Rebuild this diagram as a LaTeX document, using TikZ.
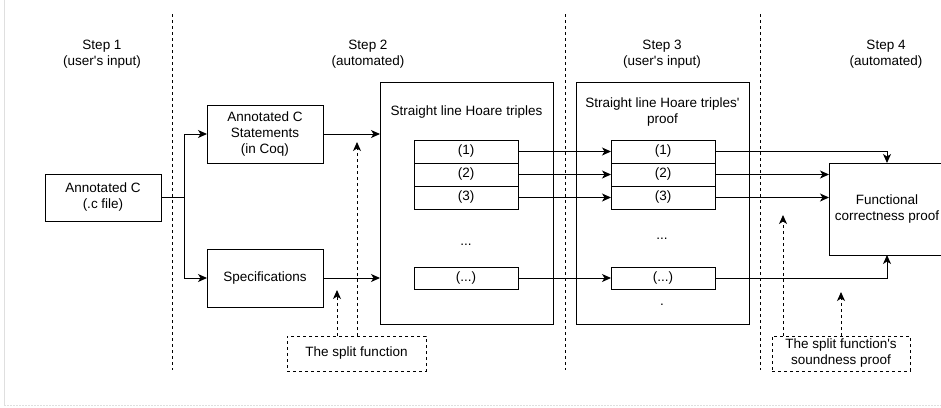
\documentclass[tikz,border=0pt]{standalone}
\usepackage{fontspec}
\setmainfont{Liberation Sans}
\usetikzlibrary{arrows.meta}
\newcommand{\fs}{\fontsize{13.5}{16}\selectfont}
\newcommand{\apo}{\textquotesingle}
\begin{document}
\begin{tikzpicture}[x=1pt,y=-1pt,
  box/.style={draw, line width=1pt, align=center, inner sep=0pt, outer sep=0pt, font=\fs},
  lbl/.style={align=center, inner sep=0pt, font=\fs},
  arr/.style={line width=1pt, -{Stealth[length=9pt,width=8pt,inset=2.5pt]}},
  darr/.style={line width=1pt, dash pattern=on 3pt off 3pt, -{Stealth[length=9pt,width=8pt,inset=2.5pt]}},
  sep/.style={line width=0.9pt, dash pattern=on 3pt off 3pt},
  ln/.style={line width=1pt}]
\useasboundingbox (0,0) rectangle (941,407);
\clip (0,0) rectangle (941,407);
% faint frame
\draw[gray!25, line width=0.8pt] (4,0) -- (4,405);
\draw[gray!25, line width=0.8pt, dash pattern=on 2pt off 1pt] (4,405) -- (941,405);
% separators
\draw[sep] (172,14) -- (172,370);
\draw[sep] (565,14) -- (565,370);
\draw[sep] (760,14) -- (760,370);
% step labels
\node[lbl] (s1) at (102,54.5) {Step 1\\(user\apo s input)};
\node[lbl] (s2) at (368,54.5) {Step 2\\(automated)};
\node[lbl] (s3) at (662,54.5) {Step 3\\(user\apo s input)};
\node[lbl] (s4) at (886,54.5) {Step 4\\(automated)};
% boxes
\node[box, minimum width=116pt, minimum height=47pt] (ac) at (103,197.5) {Annotated C\\(.c file)};
\node[box, minimum width=116pt, minimum height=58pt] (stmt) at (265,134) {Annotated C\\Statements\\(in Coq)};
\node[box, minimum width=116pt, minimum height=58pt] (spec) at (265,278) {Specifications};
\node[box, minimum width=173pt, minimum height=242pt] (big1) at (466.5,203) {};
\node[box, minimum width=173pt, minimum height=242pt] (big2) at (662.5,203) {};
\node[lbl] (t1) at (466.5,112) {Straight line Hoare triples};
\node[lbl] (t2) at (662.5,112) {Straight line Hoare triples\apo\\proof};
\node[box, minimum width=104pt, minimum height=23pt] (a1) at (466,151.5) {(1)};
\node[box, minimum width=104pt, minimum height=23pt] (a2) at (466,174.5) {(2)};
\node[box, minimum width=104pt, minimum height=23pt] (a3) at (466,197.5) {(3)};
\node[box, minimum width=104pt, minimum height=22pt] (a4) at (466,278) {(...)};
\node[box, minimum width=104pt, minimum height=23pt] (b1) at (663,151.5) {(1)};
\node[box, minimum width=104pt, minimum height=23pt] (b2) at (663,174.5) {(2)};
\node[box, minimum width=104pt, minimum height=23pt] (b3) at (663,197.5) {(3)};
\node[box, minimum width=104pt, minimum height=22pt] (b4) at (663,278) {(...)};
\node[lbl] (d1) at (466,245) {...};
\node[lbl] (d2) at (662,239) {...};
\node[lbl] (d3) at (662,305) {.};
\node[box, minimum width=116pt, minimum height=92pt] (func) at (887,209) {Functional\\correctness proof};
\node[box, dash pattern=on 3pt off 3pt, minimum width=139pt, minimum height=35pt] (split) at (356.5,353.5) {The split function};
\node[box, dash pattern=on 3pt off 3pt, minimum width=138pt, minimum height=35pt] (sound) at (841,353.5) {The split function\apo s\\soundness proof};
% connectors
\coordinate (fork) at (184,197.5);
\draw[ln] (ac.east) -- (fork);
\draw[arr] (fork) |- (stmt.west);
\draw[arr] (fork) |- (spec.west);
\draw[arr] (stmt.east) -- (stmt.east -| big1.west);
\draw[arr] (spec.east) -- (spec.east -| big1.west);
\draw[arr] (a1.east) -- (b1.west);
\draw[arr] (a2.east) -- (b2.west);
\draw[arr] (a3.east) -- (b3.west);
\draw[arr] (a4.east) -- (b4.west);
\draw[arr] (b1.east) -| (func.north);
\draw[arr] (b2.east) -- (b2.east -| func.west);
\draw[arr] (b3.east) -- (b3.east -| func.west);
\draw[arr] (b4.east) -| (func.south);
% dashed pointers
\coordinate (p1) at (337,290);
\coordinate (p2) at (357,142);
\coordinate (q1) at (783,215);
\coordinate (q2) at (841,292);
\draw[darr] (split.north -| p1) -- (p1);
\draw[darr] (split.north -| p2) -- (p2);
\draw[darr] (sound.north -| q1) -- (q1);
\draw[darr] (sound.north -| q2) -- (q2);
\end{tikzpicture}
\end{document}
